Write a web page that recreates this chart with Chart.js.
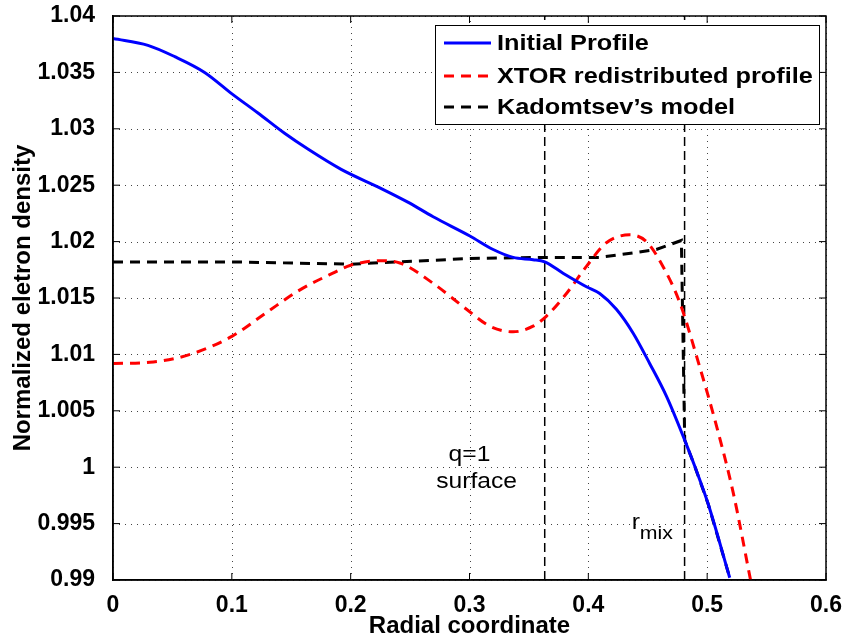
<!DOCTYPE html>
<html>
<head>
<meta charset="utf-8">
<script src="https://cdn.jsdelivr.net/npm/chart.js@4.4.1/dist/chart.umd.min.js"></script>
<style>
  body { margin: 0; background: #fff; }
  #wrap { width: 848px; height: 641px; }
</style>
</head>
<body>
<div id="wrap"><canvas id="c"></canvas></div>
<script>
// values
var initialX = [0, 0.0294, 0.0519, 0.0771, 0.1001, 0.122, 0.1444, 0.164, 0.192, 0.2258, 0.2481, 0.2694, 0.3003, 0.3199, 0.3367, 0.3535, 0.3633, 0.3787, 0.3984, 0.4096, 0.4236, 0.4376, 0.4516, 0.4657, 0.4811, 0.4895, 0.501, 0.519];
var initialY = [1.0380, 1.0374, 1.0364, 1.0350, 1.0331, 1.0314, 1.0296, 1.0282, 1.0264, 1.0247, 1.0235, 1.0222, 1.0205, 1.0193, 1.0186, 1.0184, 1.0182, 1.0172, 1.0160, 1.0154, 1.0140, 1.0119, 1.0092, 1.0063, 1.0024, 1.0001, 0.9967, 0.9902];

var xtorX = [0, 0.031, 0.065, 0.1, 0.129, 0.157, 0.185, 0.2, 0.225, 0.2414, 0.2694, 0.2975, 0.3171, 0.3367, 0.3535, 0.3648, 0.3816, 0.3984, 0.4152, 0.4348, 0.4489, 0.4628, 0.4769, 0.4937, 0.508, 0.522, 0.5365];
var xtorY = [1.0092, 1.0093, 1.0100, 1.0116, 1.0137, 1.0157, 1.0172, 1.0179, 1.0183, 1.0181, 1.0163, 1.0140, 1.0125, 1.0120, 1.0125, 1.0134, 1.0154, 1.0178, 1.0199, 1.0206, 1.0200, 1.0178, 1.0146, 1.0089, 1.0036, 0.9977, 0.9900];

var kadX = [0, 0.1, 0.2, 0.3003, 0.3633, 0.4096, 0.4376, 0.4572, 0.4783, 0.4811, 0.4895, 0.501, 0.519];
var kadY = [1.0182, 1.0182, 1.0180, 1.0185, 1.0186, 1.0186, 1.0190, 1.0193, 1.0201, 1.0024, 1.0001, 0.9967, 0.9902];

var q1X = 0.3633;
var rmixX = 0.481;

var xTickLabels = ['0', '0.1', '0.2', '0.3', '0.4', '0.5', '0.6'];
var yTickLabels = ['0.99', '0.995', '1', '1.005', '1.01', '1.015', '1.02', '1.025', '1.03', '1.035', '1.04'];

function pts(xs, ys) {
  return xs.map(function(x, i) { return {x: x, y: ys[i]}; });
}

var FONT = 'Liberation Sans, Arial, Helvetica, sans-serif';

var matlabBox = {
  id: 'matlabBox',
  beforeDatasetsDraw: function(chart) {
    // dotted grid, matlab style
    var ctx = chart.ctx, a = chart.chartArea;
    var xs = chart.scales.x, ys = chart.scales.y;
    ctx.save();
    ctx.strokeStyle = '#444';
    ctx.lineWidth = 1;
    ctx.setLineDash([1, 5]);
    ctx.beginPath();
    xs.ticks.forEach(function(t) {
      var p = Math.round(xs.getPixelForValue(t.value)) + 0.5;
      ctx.moveTo(p, a.bottom); ctx.lineTo(p, a.top);
    });
    ys.ticks.forEach(function(t) {
      var p = Math.round(ys.getPixelForValue(t.value)) + 0.5;
      ctx.moveTo(a.left, p); ctx.lineTo(a.right, p);
    });
    ctx.stroke();
    ctx.restore();
  },
  afterDraw: function(chart) {
    var ctx = chart.ctx, a = chart.chartArea;
    var xs = chart.scales.x, ys = chart.scales.y;
    ctx.save();
    // box + inner ticks
    ctx.strokeStyle = '#000';
    ctx.lineWidth = 1.5;
    ctx.strokeRect(a.left, a.top, a.right - a.left, a.bottom - a.top);
    ctx.lineWidth = 1;
    ctx.beginPath();
    xs.ticks.forEach(function(t) {
      var p = xs.getPixelForValue(t.value);
      ctx.moveTo(p, a.bottom); ctx.lineTo(p, a.bottom - 7);
      ctx.moveTo(p, a.top); ctx.lineTo(p, a.top + 7);
    });
    ys.ticks.forEach(function(t) {
      var p = ys.getPixelForValue(t.value);
      ctx.moveTo(a.left, p); ctx.lineTo(a.left + 7, p);
      ctx.moveTo(a.right, p); ctx.lineTo(a.right - 7, p);
    });
    ctx.stroke();

    // text notes
    ctx.fillStyle = '#000';
    ctx.font = '22px ' + FONT;
    ctx.textAlign = 'center';
    ctx.textBaseline = 'middle';
    function stretched(txt, x, y, sx) {
      ctx.save(); ctx.translate(x, y); ctx.scale(sx, 1); ctx.fillText(txt, 0, 0); ctx.restore();
    }
    stretched('q=1', xs.getPixelForValue(0.300), ys.getPixelForValue(1.0011), 1.12);
    stretched('surface', xs.getPixelForValue(0.306), ys.getPixelForValue(0.99866), 1.12);
    ctx.textAlign = 'left';
    ctx.textBaseline = 'alphabetic';
    var rx = xs.getPixelForValue(0.4365), ry = ys.getPixelForValue(0.9945);
    stretched('r', rx, ry, 1.12);
    ctx.font = '19px ' + FONT;
    stretched('mix', rx + 8, ry + 10, 1.12);

    // legend
    var lx = 435, ly = 25, lw = 384, lh = 99;
    ctx.fillStyle = '#fff';
    ctx.fillRect(lx, ly, lw, lh);
    ctx.strokeStyle = '#000';
    ctx.lineWidth = 1;
    ctx.strokeRect(lx + 0.5, ly + 0.5, lw, lh);
    var rows = [43, 76, 107];
    ctx.font = 'bold 22px ' + FONT;
    ctx.textBaseline = 'middle';
    for (var i = 0; i < 3; i++) {
      var ds = chart.data.datasets[i];
      ctx.strokeStyle = ds.borderColor;
      ctx.lineWidth = 3;
      ctx.setLineDash(ds.borderDash || []);
      ctx.beginPath();
      ctx.moveTo(444, rows[i]); ctx.lineTo(491, rows[i]);
      ctx.stroke();
      ctx.setLineDash([]);
      ctx.fillStyle = '#000';
      ctx.save(); ctx.translate(497, rows[i] + 1); ctx.scale(1.15, 1);
      ctx.fillText(ds.label, 0, 0);
      ctx.restore();
    }
    ctx.restore();
  }
};

new Chart(document.getElementById('c'), {
  type: 'line',
  data: {
    datasets: [
      { label: 'Initial Profile', data: pts(initialX, initialY), borderColor: '#0000ff', borderWidth: 3, cubicInterpolationMode: 'monotone' },
      { label: 'XTOR redistributed profile', data: pts(xtorX, xtorY), borderColor: '#ff0000', borderWidth: 3, borderDash: [10, 7], cubicInterpolationMode: 'monotone' },
      { label: 'Kadomtsev\u2019s model', data: pts(kadX, kadY), borderColor: '#000000', borderWidth: 3, borderDash: [10, 7], tension: 0 },
      { label: 'q1', data: [{x: q1X, y: 0.99}, {x: q1X, y: 1.04}], borderColor: '#000', borderWidth: 1.5, borderDash: [9, 5] },
      { label: 'rmix', data: [{x: rmixX, y: 0.99}, {x: rmixX, y: 1.04}], borderColor: '#000', borderWidth: 1.5, borderDash: [9, 5] }
    ]
  },
  options: {
    responsive: true,
    maintainAspectRatio: false,
    animation: false,
    elements: { point: { radius: 0 } },
    layout: { padding: { top: 16, right: 22, left: 0, bottom: 0 } },
    plugins: { legend: { display: false }, tooltip: { enabled: false } },
    scales: {
      x: {
        type: 'linear', min: 0, max: 0.6,
        afterFit: function(s) { s.height = 61; s.paddingLeft = 0; s.paddingRight = 0; },
        ticks: { stepSize: 0.1, color: '#000', padding: 4, maxRotation: 0,
                 font: { family: FONT, size: 23, weight: 'bold' },
                 callback: function(v, i) { return xTickLabels[i]; } },
        grid: { display: false },
        border: { color: '#000', width: 1.5 },
        title: { display: true, text: 'Radial coordinate', color: '#000', padding: { top: 0, bottom: 0 },
                 font: { family: FONT, size: 24, weight: 'bold' } }
      },
      y: {
        type: 'linear', min: 0.99, max: 1.04,
        afterFit: function(s) { s.width = 113; s.paddingTop = 0; s.paddingBottom = 0; },
        ticks: { stepSize: 0.005, color: '#000', padding: 10,
                 font: { family: FONT, size: 23, weight: 'bold' },
                 callback: function(v, i) { return yTickLabels[i]; } },
        grid: { display: false },
        border: { color: '#000', width: 1.5 },
        title: { display: true, text: 'Normalized eletron density', color: '#000', padding: { top: 9, bottom: 0 },
                 font: { family: FONT, size: 24, weight: 'bold' } }
      }
    }
  },
  plugins: [matlabBox]
});
</script>
</body>
</html>
